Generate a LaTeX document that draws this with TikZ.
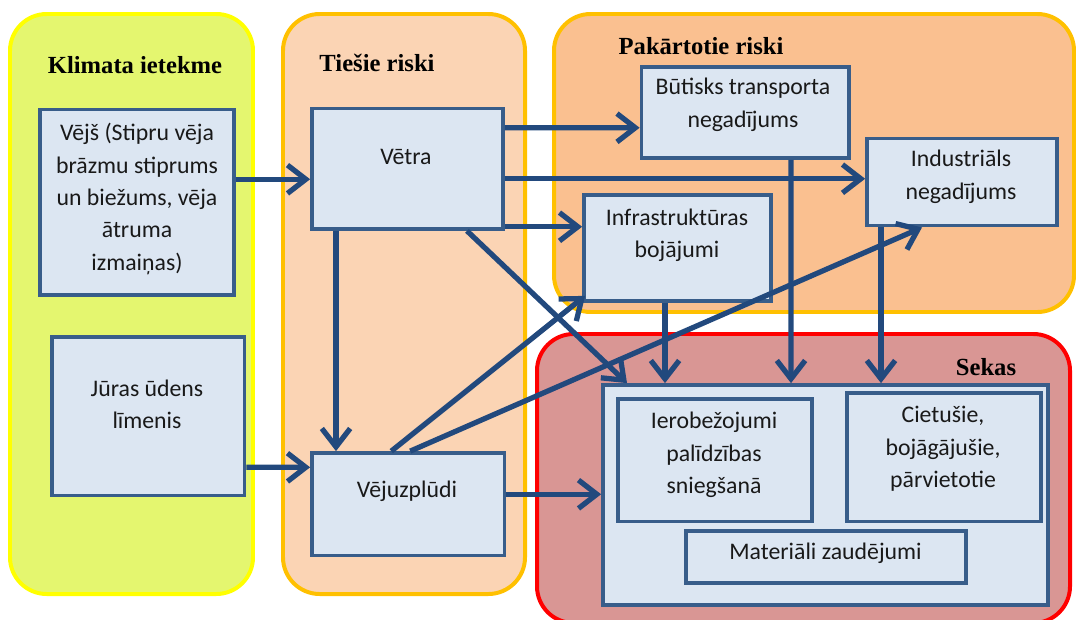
\documentclass[tikz,border=0pt]{standalone}
\usepackage{fontspec}
\setmainfont{Carlito}
\newfontfamily\titlefont{Liberation Serif}
\usetikzlibrary{arrows.meta,fit}
\definecolor{klimafill}{HTML}{E4F66F}
\definecolor{klimaline}{HTML}{FFFF00}
\definecolor{tiesfill}{HTML}{FBD4B4}
\definecolor{pakfill}{HTML}{FAC090}
\definecolor{riskline}{HTML}{FFC000}
\definecolor{sekfill}{HTML}{D99694}
\definecolor{sekline}{HTML}{FF0000}
\definecolor{boxfill}{HTML}{DCE6F2}
\definecolor{boxline}{HTML}{385D8A}
\definecolor{arrowblue}{HTML}{22497D}

\begin{document}
\begin{tikzpicture}[x=0.03cm, y=-0.03cm,
  every node/.style={font=\fontsize{20.3}{27.7}\selectfont},
  grp/.style={rounded corners=1.1cm, line width=3.4pt},
  box/.style={draw=boxline, fill=boxfill, line width=3.2pt, inner sep=0pt},
  txt/.style={align=center, text=black!90},
  ttl/.style={font=\titlefont\bfseries\fontsize{21}{24}\selectfont},
  arr/.style={draw=arrowblue, line width=4.5pt,
              -{Straight Barb[length=0.55cm,width=0.85cm]}}
]
\clip (0,0) rectangle (1076,619);

%% column backgrounds
\draw[grp, draw=klimaline, fill=klimafill] (10,14)  rectangle (253,594);
\draw[grp, draw=riskline,  fill=tiesfill]  (283,14) rectangle (525,594);
\draw[grp, draw=riskline,  fill=pakfill]   (554,14) rectangle (1074,312);
\draw[grp, draw=sekline,   fill=sekfill]   (537,334) rectangle (1070,623);

\node[ttl] (t-klim) at (135,65)  {Klimata ietekme};
\node[ttl] (t-ties) at (377,63)  {Tiešie riski};
\node[ttl] (t-pak)  at (701,46)  {Pakārtotie riski};
\node[ttl] (t-sek)  at (986,367) {Sekas};

%% boxes
\node[box, fit={(40,109.5) (234,295)}]   (vejs)    {};
\node[box, fit={(52,337) (244.5,495.6)}] (juras)   {};
\node[box, fit={(312,108.5) (503,229)}]  (vetra)   {};
\node[box, fit={(312,453) (504.5,555.5)}](vejuz)   {};
\node[box, fit={(641.5,67) (849,158)}]   (butisks) {};
\node[box, fit={(867,138.5) (1057,225.6)}](industr){};
\node[box, fit={(584,195) (771,301)}]    (infra)   {};
\node[box, fit={(603,385) (1048,605)}]   (sekas)   {};
\node[box, fit={(618,399) (812,521.5)}]  (ierob)   {};
\node[box, fit={(847,393) (1041,521.5)}] (cietusie){};
\node[box, fit={(686,531) (966,583)}]    (mater)   {};

%% box texts
\node[txt] (vejs-t)    at (137,199)   {Vējš (Stipru vēja\\brāzmu stiprums\\un biežums, vēja\\ātruma\\izmaiņas)};
\node[txt] (juras-t)   at (147,404.5) {Jūras ūdens\\līmenis};
\node[txt] (vetra-t)   at (406,157)   {Vētra};
\node[txt] (vejuz-t)   at (407,491)   {Vējuzplūdi};
\node[txt] (butisks-t) at (743,105)   {Būtisks transporta\\negadījums};
\node[txt] (industr-t) at (961,177)   {Industriāls\\negadījums};
\node[txt] (infra-t)   at (677,235.5) {Infrastruktūras\\bojājumi};
\node[txt] (ierob-t)   at (714,455)   {Ierobežojumi\\palīdzības\\sniegšanā};
\node[txt] (cietusie-t)at (943,449)   {Cietušie,\\bojāgājušie,\\pārvietotie};
\node[txt] (mater-t)   at (825.5,553.7){Materiāli zaudējumi};

%% connectors
\draw[arr] ([shift={(0,-23)}]vejs.east)    -- ([shift={(0,10.5)}]vetra.west);
\draw[arr] ([shift={(0,51)}]juras.east)    -- ([shift={(0,-36.95)}]vejuz.west);
\draw[arr] ([shift={(0,-41)}]vetra.east)   -- ([shift={(0,15.25)}]butisks.west);
\draw[arr] ([shift={(0,10)}]vetra.east)    -- ([shift={(0,-3.3)}]industr.west);
\draw[arr] ([shift={(0,58)}]vetra.east)    -- ([shift={(0,-21.25)}]infra.west);
\draw[arr] ([shift={(-71.5,0)}]vetra.south) -- ([shift={(-72.25,0)}]vejuz.north);
\draw[arr] ([shift={(59.5,0)}]vetra.south)  -- ([shift={(-198.5,0)}]sekas.north);
\draw[arr] ([shift={(-17,0)}]vejuz.north)   -- ([shift={(3,-7)}]infra.south west);
\draw[arr] ([shift={(2,0)}]vejuz.north)     -- ([shift={(-40,0)}]industr.south);
\draw[arr] ([shift={(0,-10)}]vejuz.east)    -- ([shift={(0,-0.75)}]sekas.west);
\draw[arr] ([shift={(-12.5,0)}]infra.south) -- ([shift={(-160.5,0)}]sekas.north);
\draw[arr] ([shift={(45.75,0)}]butisks.south) -- ([shift={(-34.5,0)}]sekas.north);
\draw[arr] ([shift={(-81,0)}]industr.south) -- ([shift={(55.5,0)}]sekas.north);
\end{tikzpicture}
\end{document}
